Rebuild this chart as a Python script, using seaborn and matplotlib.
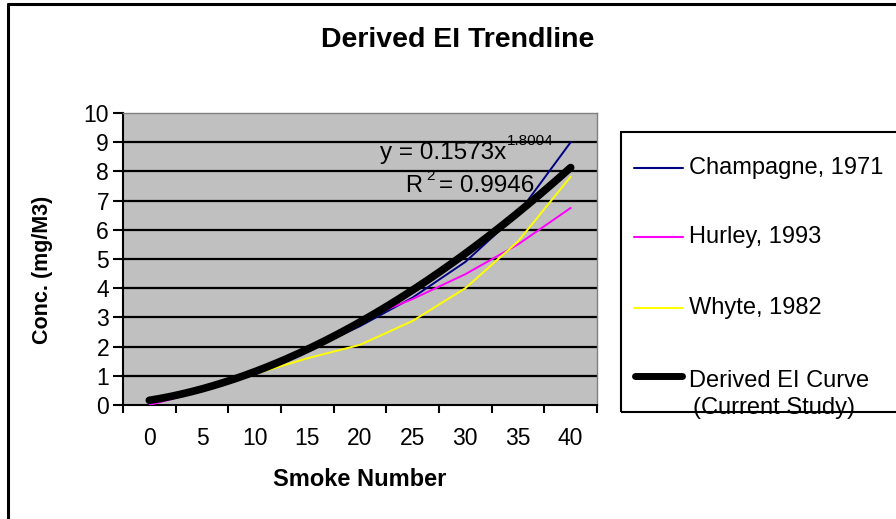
import numpy as np
import pandas as pd
import seaborn as sns
import matplotlib
matplotlib.use("Agg")
import matplotlib.pyplot as plt
from matplotlib.lines import Line2D
from matplotlib.patches import Rectangle

# ---- data ----
smoke_numbers = [0, 5, 10, 15, 20, 25, 30, 35, 40]
champagne_1971 = [0.15, 0.52, 1.05, 1.85, 2.70, 3.68, 4.90, 6.55, 9.00]
hurley_1993 = [0.00, 0.48, 1.05, 1.90, 2.90, 3.63, 4.48, 5.50, 6.75]
whyte_1982 = [0.12, 0.52, 1.06, 1.60, 2.06, 2.88, 4.00, 5.60, 7.82]
derived_ei = [0.16, 0.55, 1.14, 1.91, 2.84, 3.93, 5.17, 6.56, 8.20]
series_names = ["Champagne, 1971", "Hurley, 1993", "Whyte, 1982"]
series_colors = ["#000080", "#FF00FF", "#FFFF00"]
derived_name = "Derived EI Curve\n(Current Study)"
y_ticks = [0, 1, 2, 3, 4, 5, 6, 7, 8, 9, 10]
eq_text = "y = 0.1573x"
eq_exp = "1.8004"
r2_text = "= 0.9946"

sns.set_theme(style="white")
plt.rcParams["font.family"] = ["Liberation Sans", "DejaVu Sans"]
plt.rcParams["text.color"] = "black"
plt.rcParams["axes.labelcolor"] = "black"
plt.rcParams["xtick.color"] = "black"
plt.rcParams["ytick.color"] = "black"

W, H = 896, 519
fig = plt.figure(figsize=(W / 100, H / 100), dpi=100)
fig.patch.set_facecolor("white")


def fx(px):
    return px / W


def fy(py):
    return 1 - py / H


AX_L, AX_R, AX_T, AX_B = 123, 597, 113, 405
ax = fig.add_axes([fx(AX_L), fy(AX_B), fx(AX_R) - fx(AX_L), fy(AX_T) - fy(AX_B)])
ax.set_facecolor("#C0C0C0")

# category positions: Excel category axis, index 1..9
idx = np.arange(1, len(smoke_numbers) + 1)
long_rows = []
for name, vals in zip(series_names, [champagne_1971, hurley_1993, whyte_1982]):
    for i, v in zip(idx, vals):
        long_rows.append({"pos": i, "value": v, "series": name})
df = pd.DataFrame(long_rows)

sns.lineplot(data=df, x="pos", y="value", hue="series", hue_order=series_names,
             palette=series_colors, linewidth=1.4, ax=ax, legend=False,
             estimator=None, sort=False, zorder=3)

# Power trendline fitted to the derived EI points (like Excel's trendline)
b, loga = np.polyfit(np.log(idx), np.log(derived_ei), 1)
xs = np.linspace(1, len(idx), 200)
ys = np.exp(loga) * xs ** b
ax.plot(xs, ys, color="black", linewidth=5.5, solid_capstyle="round", zorder=4)

ax.set_xlim(0.5, len(idx) + 0.5)
ax.set_ylim(0, 10)
ax.set_yticks(y_ticks)
ax.set_yticklabels([str(t) for t in y_ticks])
ax.set_xticks(np.arange(0.5, len(idx) + 1, 1))
ax.set_xticklabels([])
ax.set_xticks(idx, minor=True)
ax.set_xticklabels([str(s) for s in smoke_numbers], minor=True)
ax.tick_params(axis="x", which="major", direction="out", length=6, width=1.5,
               color="black", bottom=True)
ax.tick_params(axis="x", which="minor", length=0, pad=16, labelsize=16.5,
               labelcolor="black")
ax.tick_params(axis="y", direction="out", length=7, width=1.5, color="black",
               left=True, pad=3, labelsize=16.5, labelcolor="black")

for y in y_ticks[1:-1]:
    ax.axhline(y, color="black", linewidth=1.6, zorder=2)
for s in ["left", "bottom"]:
    ax.spines[s].set_color("black")
    ax.spines[s].set_linewidth(1.5)
for s in ["top", "right"]:
    ax.spines[s].set_color("#808080")
    ax.spines[s].set_linewidth(1.0)

ax.set_xlabel("Smoke Number", fontsize=17, fontweight="bold", va="center", color="black")
ax.xaxis.set_label_coords(((360 - AX_L) / (AX_R - AX_L)), (AX_B - 480) / (AX_B - AX_T))
ax.set_ylabel("Conc. (mg/M3)", fontsize=15.5, fontweight="bold", va="center", color="black")
ax.yaxis.set_label_coords((42 - AX_L) / (AX_R - AX_L), (AX_B - 270) / (AX_B - AX_T))

# trendline equation
fig.text(fx(380), fy(153), eq_text, fontsize=17.5, ha="left", va="center")
fig.text(fx(507), fy(141), eq_exp, fontsize=11, ha="left", va="center")
fig.text(fx(405), fy(186), "R", fontsize=17, ha="left", va="center")
fig.text(fx(426), fy(176), "2", fontsize=11, ha="left", va="center")
fig.text(fx(439), fy(186), r2_text, fontsize=17.5, ha="left", va="center")

# title
fig.text(fx(458), fy(40), "Derived EI Trendline", fontsize=20.5, fontweight="bold",
         ha="center", va="center")

# legend box (manual, as in the reference)
fig.add_artist(Rectangle((fx(621), fy(412)), fx(W + 10) - fx(621), fy(132) - fy(412),
                         transform=fig.transFigure, fill=False, edgecolor="black",
                         linewidth=1.5))
leg_y = [168, 237, 308]
for name, col, yy in zip(series_names, series_colors, leg_y):
    fig.add_artist(Line2D([fx(634), fx(683)], [fy(yy), fy(yy)], color=col, linewidth=1.5,
                          transform=fig.transFigure))
    fig.text(fx(689), fy(yy), name, fontsize=17, ha="left", va="center")
fig.add_artist(Line2D([fx(635), fx(682)], [fy(376), fy(376)], color="black", linewidth=5,
                      solid_capstyle="round", transform=fig.transFigure))
lines = derived_name.split("\n")
fig.text(fx(689), fy(381), lines[0], fontsize=17, ha="left", va="center")
fig.text(fx(693), fy(408), lines[1], fontsize=17, ha="left", va="center")

# outer chart border (left and top visible)
fig.add_artist(Line2D([fx(8), fx(8)], [fy(4), fy(H + 5)], color="black", linewidth=2.2,
                      transform=fig.transFigure))
fig.add_artist(Line2D([fx(8), fx(W + 5)], [fy(4), fy(4)], color="black", linewidth=2.2,
                      transform=fig.transFigure))

fig.savefig("out.png", dpi=100)
